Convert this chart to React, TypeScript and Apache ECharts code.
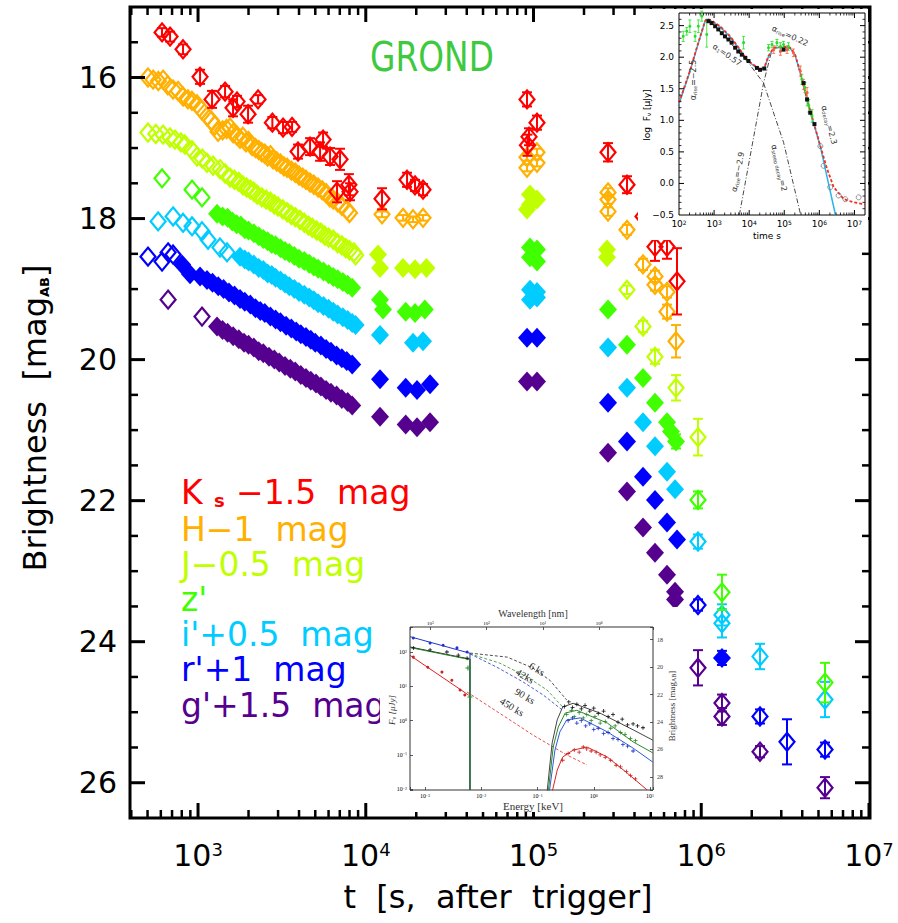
import React, { useEffect, useRef } from 'react';
import * as echarts from 'echarts';

const FONT = "'DejaVu Sans', 'Liberation Sans', sans-serif";
const SERIF = "'Liberation Serif', 'DejaVu Serif', serif";

// ---------------- main panel: GROND light curves [t (s), mag, err] ----------------
const kOpen = [
  [610, 15.36, 0.06], [681, 15.42, 0.07], [814, 15.6, 0.07], [1028, 15.99, 0.1], [1212, 16.31, 0.12],
  [1449, 16.2, 0.08], [1617, 16.43, 0.12], [1708, 16.34, 0.08], [1987, 16.52, 0.12], [2279, 16.31, 0.06],
  [2774, 16.64, 0.08], [3212, 16.71, 0.08], [3634, 16.7, 0.07], [3947, 17.05, 0.1], [4653, 16.98, 0.12],
  [5339, 17.05, 0.13], [5564, 16.88, 0.1], [6124, 17.12, 0.12], [7023, 17.16, 0.15], [6740, 17.62, 0.15],
  [7930, 17.52, 0.15], [8055, 17.62, 0.12],
  [12500, 17.72, 0.15], [17620, 17.45, 0.1], [19660, 17.53, 0.08], [21950, 17.59, 0.08],
  [91460, 16.31, 0.1], [104900, 16.64, 0.1], [94010, 16.84, 0.12], [92000, 16.96, 0.15],
  [278100, 17.06, 0.13], [360900, 17.52, 0.12], [449600, 17.97, 0.1], [530000, 18.4, 0.2],
  [625100, 18.4, 0.17], [717100, 18.89, 0.47],
];

const hOpen = [
  [503, 16.0, 0], [540, 16.03, 0], [580, 16.05, 0], [619, 16.03, 0], [660, 16.11, 0], [710, 16.17, 0],
  [760, 16.19, 0], [814, 16.27, 0], [870, 16.31, 0], [920, 16.33, 0], [986, 16.38, 0], [1050, 16.46, 0],
  [1131, 16.55, 0], [1200, 16.61, 0], [1260, 16.68, 0], [1316, 16.77, 0], [1400, 16.75, 0], [1480, 16.73, 0],
  [1552, 16.71, 0], [1620, 16.79, 0], [1700, 16.82, 0], [1780, 16.87, 0], [1850, 16.84, 0], [1930, 16.92, 0],
  [2000, 16.9, 0], [2100, 16.97, 0], [2200, 17.0, 0], [2300, 17.03, 0], [2400, 17.06, 0], [2500, 17.08, 0],
  [2600, 17.12, 0], [2700, 17.1, 0], [2800, 17.16, 0], [2950, 17.19, 0], [3100, 17.22, 0], [3250, 17.26, 0],
  [3400, 17.28, 0], [3600, 17.32, 0], [3800, 17.35, 0], [4000, 17.39, 0], [4200, 17.42, 0], [4400, 17.45, 0],
  [4650, 17.49, 0], [4900, 17.52, 0], [5200, 17.56, 0], [5500, 17.6, 0], [5800, 17.64, 0], [6100, 17.7, 0],
  [6400, 17.73, 0], [6800, 17.77, 0], [7200, 17.82, 0], [7700, 17.88, 0], [8000, 17.92, 0],
  [12500, 17.94, 0.04], [16680, 17.99, 0.04], [19130, 18.01, 0.04], [21950, 17.99, 0.04],
  [91460, 17.13, 0.05], [91460, 17.28, 0.05], [104900, 17.06, 0.05], [104900, 17.21, 0.05],
  [278100, 17.63, 0.06], [278100, 17.73, 0.06], [278100, 17.9, 0.06], [360900, 18.16, 0.07],
  [449600, 18.65, 0.08], [530000, 18.82, 0.08], [530000, 18.94, 0.08], [625100, 19.04, 0.08],
  [625100, 19.32, 0.1], [707400, 19.74, 0.23],
];

const jOpen = [
  [503, 16.78, 0], [560, 16.8, 0], [619, 16.81, 0], [680, 16.85, 0], [729, 16.88, 0], [790, 16.92, 0],
  [836, 16.95, 0], [920, 17.03, 0], [986, 17.12, 0], [1060, 17.15, 0], [1131, 17.21, 0], [1230, 17.25, 0],
  [1352, 17.3, 0], [1450, 17.36, 0], [1552, 17.42, 0], [1650, 17.45, 0], [1750, 17.48, 0], [1850, 17.53, 0],
  [1950, 17.56, 0], [2050, 17.59, 0], [2150, 17.62, 0], [2250, 17.66, 0], [2400, 17.7, 0], [2550, 17.73, 0],
  [2700, 17.76, 0], [2850, 17.8, 0], [3000, 17.83, 0], [3200, 17.87, 0], [3400, 17.91, 0], [3600, 17.95, 0],
  [3800, 17.98, 0], [4050, 18.02, 0], [4300, 18.06, 0], [4550, 18.1, 0], [4800, 18.13, 0], [5100, 18.17, 0],
  [5400, 18.2, 0], [5700, 18.24, 0], [6000, 18.27, 0], [6400, 18.3, 0], [6800, 18.35, 0], [7200, 18.38, 0],
  [7600, 18.42, 0], [8000, 18.45, 0], [8500, 18.48, 0], [8700, 18.52, 0],
  [360900, 19.01, 0.06], [449600, 19.53, 0.08], [530000, 19.96, 0.1], [707400, 20.4, 0.18], [956300, 21.1, 0.26],
];
const jFilled = [
  [11830, 18.51, 0], [12160, 18.7, 0], [16680, 18.7, 0], [19660, 18.72, 0], [23000, 18.7, 0],
  [95310, 17.66, 0], [95310, 17.8, 0], [104900, 17.73, 0], [91460, 17.87, 0],
  [274300, 18.44, 0.05], [274300, 18.55, 0.05],
];

const zOpen = [
  [610, 17.43, 0], [921, 17.59, 0], [1056, 17.7, 0],
  [956300, 21.99, 0.12], [1329000, 23.3, 0.25], [5468000, 24.58, 0.28],
];
const zFilled = [
  [1298, 17.93, 0], [1400, 17.97, 0], [1500, 17.99, 0], [1600, 18.04, 0], [1700, 18.08, 0], [1800, 18.1, 0],
  [1900, 18.15, 0], [2000, 18.17, 0], [2150, 18.21, 0], [2300, 18.25, 0], [2450, 18.29, 0], [2600, 18.32, 0],
  [2750, 18.36, 0], [2900, 18.38, 0], [3100, 18.42, 0], [3300, 18.46, 0], [3500, 18.49, 0], [3750, 18.53, 0],
  [4000, 18.57, 0], [4300, 18.6, 0], [4600, 18.64, 0], [4900, 18.68, 0], [5200, 18.71, 0], [5600, 18.75, 0],
  [6000, 18.79, 0], [6400, 18.83, 0], [6800, 18.86, 0], [7300, 18.9, 0], [7800, 18.94, 0], [8300, 18.98, 0],
  [12160, 19.15, 0], [12670, 19.29, 0], [17300, 19.32, 0], [19660, 19.34, 0], [22500, 19.29, 0],
  [95310, 18.41, 0], [95310, 18.55, 0], [104900, 18.44, 0], [104900, 18.61, 0],
  [278100, 19.29, 0], [360900, 19.79, 0], [449600, 20.26, 0], [530000, 20.61, 0], [625100, 20.89, 0],
  [660000, 21.02, 0], [707400, 21.16, 0.1],
];

const iOpen = [
  [578, 18.04, 0], [710, 17.97, 0], [814, 18.06, 0], [921, 18.11, 0], [1056, 18.18, 0], [1147, 18.3, 0],
  [1352, 18.41, 0], [1489, 18.48, 0],
  [956300, 22.58, 0.1], [1329000, 23.62, 0.15], [1329000, 23.74, 0.2], [2240000, 24.21, 0.18], [5468000, 24.82, 0.25],
];
const iFilled = [
  [1780, 18.54, 0], [1900, 18.58, 0], [2000, 18.61, 0], [2150, 18.65, 0], [2300, 18.7, 0], [2450, 18.73, 0],
  [2600, 18.78, 0], [2750, 18.8, 0], [2900, 18.84, 0], [3100, 18.88, 0], [3300, 18.92, 0], [3500, 18.96, 0],
  [3750, 19.0, 0], [4000, 19.04, 0], [4300, 19.08, 0], [4600, 19.12, 0], [4900, 19.16, 0], [5200, 19.2, 0],
  [5600, 19.24, 0], [6000, 19.28, 0], [6400, 19.32, 0], [6800, 19.36, 0], [7300, 19.4, 0], [7800, 19.44, 0],
  [8300, 19.48, 0], [8700, 19.51, 0],
  [12160, 19.65, 0], [19130, 19.76, 0], [21950, 19.74, 0],
  [95310, 19.01, 0], [104900, 19.04, 0], [95310, 19.15, 0], [104900, 19.12, 0],
  [278100, 19.83, 0], [360900, 20.4, 0], [449600, 20.89, 0], [530000, 21.23, 0], [625100, 21.59, 0], [697800, 21.84, 0],
];

const rOpen = [
  [503, 18.54, 0], [610, 18.61, 0], [663, 18.48, 0], [710, 18.51, 0],
  [956300, 23.48, 0.08], [2240000, 25.06, 0.1], [3245000, 25.42, 0.32], [5468000, 25.53, 0.1],
];
const rFilled = [
  [803, 18.65, 0], [896, 18.79, 0], [1028, 18.82, 0],
  [1131, 18.87, 0], [1220, 18.91, 0], [1320, 18.96, 0], [1420, 19.0, 0], [1530, 19.05, 0], [1650, 19.09, 0],
  [1780, 19.14, 0], [1900, 19.18, 0], [2050, 19.22, 0], [2200, 19.27, 0], [2350, 19.31, 0], [2500, 19.34, 0],
  [2700, 19.39, 0], [2900, 19.43, 0], [3100, 19.47, 0], [3350, 19.52, 0], [3600, 19.56, 0], [3850, 19.6, 0],
  [4100, 19.64, 0], [4400, 19.68, 0], [4700, 19.72, 0], [5000, 19.76, 0], [5400, 19.8, 0], [5800, 19.85, 0],
  [6200, 19.89, 0], [6700, 19.94, 0], [7200, 19.98, 0], [7700, 20.02, 0], [8300, 20.07, 0],
  [12160, 20.28, 0], [17300, 20.4, 0], [20210, 20.43, 0], [24160, 20.35, 0],
  [91460, 19.69, 0], [104900, 19.69, 0],
  [278100, 20.61, 0], [360900, 21.16, 0], [449600, 21.66, 0], [530000, 21.99, 0], [625100, 22.31, 0],
  [717100, 22.55, 0], [1329000, 24.23, 0.1],
];

const gOpen = [
  [663, 19.15, 0], [1056, 19.39, 0],
  [956300, 24.37, 0.25], [1329000, 24.87, 0.12], [1329000, 25.06, 0.12], [2240000, 25.56, 0.08], [5468000, 26.07, 0.15],
];
const gFilled = [
  [1298, 19.53, 0], [1400, 19.58, 0], [1500, 19.62, 0], [1620, 19.67, 0], [1750, 19.71, 0], [1880, 19.76, 0],
  [2000, 19.79, 0], [2150, 19.83, 0], [2300, 19.88, 0], [2450, 19.91, 0], [2650, 19.96, 0], [2850, 20.0, 0],
  [3050, 20.04, 0], [3300, 20.09, 0], [3550, 20.13, 0], [3800, 20.17, 0], [4100, 20.22, 0], [4400, 20.26, 0],
  [4700, 20.3, 0], [5050, 20.34, 0], [5400, 20.38, 0], [5800, 20.43, 0], [6200, 20.47, 0], [6700, 20.51, 0],
  [7200, 20.56, 0], [7800, 20.6, 0], [8300, 20.65, 0],
  [12160, 20.81, 0], [17300, 20.92, 0], [20210, 20.96, 0], [24160, 20.89, 0],
  [91460, 20.31, 0], [104900, 20.31, 0],
  [278100, 21.32, 0], [360900, 21.87, 0], [449600, 22.38, 0], [530000, 22.74, 0], [625100, 23.05, 0],
  [697800, 23.29, 0], [697800, 23.4, 0],
];

const legendLabels = ["H\u22121  mag", "J\u22120.5  mag", "z'", "i'+0.5  mag", "r'+1  mag", "g'+1.5  mag"];
const mainXMajor = [1e3, 1e4, 1e5, 1e6, 1e7];
const mainYMajor = [16, 18, 20, 22, 24, 26];

// ---------------- inset 1: log F_nu vs time ----------------
const insetModel = [
  [100, 1.28], [204, 1.78], [355, 2.23], [550, 2.57], [620, 2.61], [851, 2.58], [1479, 2.49], [2884, 2.33],
  [5495, 2.12], [8511, 1.96], [14791, 1.86], [20417, 1.81], [26915, 1.83], [35481, 2.02], [50119, 2.15],
  [95499, 2.17], [147911, 2.15], [204174, 2.04], [288403, 1.75], [446684, 1.33], [691831, 0.96],
  [1071519, 0.59], [1659587, 0.23], [2570396, -0.06], [5011872, -0.25], [9549926, -0.3], [20000000, -0.33],
];
const insetFit = [
  [100, 1.26], [204, 1.77], [355, 2.22], [550, 2.56], [620, 2.6], [851, 2.57], [1479, 2.48], [2884, 2.32],
  [5495, 2.11], [8511, 1.95], [14791, 1.85], [20417, 1.8], [26915, 1.82], [35481, 2.01], [50119, 2.14],
  [95499, 2.16], [147911, 2.14], [204174, 2.03], [288403, 1.74], [446684, 1.32], [691831, 0.95],
  [1071519, 0.58], [2884032, -0.5],
];
const insetDecay = [[851, 2.55], [9550, 1.91], [25704, 1.59], [95499, 0.65], [288403, -0.48]];
const insetRise = [[5248, -0.5], [25704, 1.59], [44668, 2.12]];
const insetGreen = [
  [132, 2.33, 0.08], [166, 2.41, 0.06], [204, 2.49, 0.1], [288, 2.33, 0.08], [355, 2.49, 0.1], [447, 2.65, 0.08],
  [617, 2.36, 0.2], [6918, 2.23, 0.1], [35481, 2.15, 0.05], [44668, 2.2, 0.05], [61660, 2.23, 0.05],
  [77625, 2.17, 0.06], [95499, 2.2, 0.05], [131826, 2.17, 0.06], [316228, 1.65, 0.08], [389045, 1.52, 0.08],
  [446684, 1.33, 0.1], [501187, 1.23, 0.1], [616595, 1.07, 0.1],
];
const insetBlack = [
  [692, 2.57], [851, 2.54], [1072, 2.49], [1318, 2.44], [1660, 2.38], [2042, 2.33], [2570, 2.28], [3162, 2.23],
  [3981, 2.15], [4898, 2.09], [6166, 2.04], [7762, 1.99], [9550, 1.94], [16596, 1.83], [20417, 1.8],
  [26915, 1.82], [95499, 2.12], [354813, 1.59], [446684, 1.33], [549541, 1.12], [724436, 0.94],
];
const insetRed = [
  [50119, 2.12, 0.06], [77625, 2.09, 0.06], [120226, 2.12, 0.06], [181970, 2.07, 0.06],
  [288403, 1.78, 0.08], [354813, 1.57, 0.08], [446684, 1.44, 0.08],
];
const insetGrey = [[1.07e6, 0.59], [1.32e6, 0.28], [2.04e6, -0.06], [3.55e6, -0.19], [5.5e6, -0.25], [1.32e7, -0.22]];

// ---------------- inset 2: SED, energy [keV] vs F_nu [uJy] ----------------
const sedBluePts = [[6.2e-4, 257], [1.23e-3, 182], [2.1e-3, 158], [3.7e-3, 132], [5.6e-3, 100]];
const sedBlackPts = [[6.2e-4, 132], [1.23e-3, 115], [2.45e-3, 100], [3.9e-3, 81], [5.6e-3, 66]];
const sedGreenPts = [[5.8e-3, 34], [6.3e-3, 4.9]];
const sedRedPts = [[6.2e-4, 71], [1.12e-3, 36], [2.0e-3, 26], [3.0e-3, 15], [4.2e-3, 7.8], [5.1e-3, 5.6]];
const sedBlueOpt = [[5.41e-4, 280], [6.3e-3, 92], [6.3e-3, 0.0095]];
const sedBlackOpt = [[5.41e-4, 140], [6.3e-3, 62], [6.3e-3, 0.0095]];
const sedGreenOpt = [[5.41e-4, 135], [6.3e-3, 60], [6.3e-3, 0.0095]];
const sedRedOpt = [[5.41e-4, 80], [6.0e-3, 5.5]];
const sedBlackDash = [[6.3e-3, 93], [0.029, 71], [0.083, 34], [0.166, 15], [0.33, 4.0]];
const sedGreenDash = [[6.3e-3, 88], [0.021, 48], [0.065, 19], [0.148, 7.8], [0.28, 2.5]];
const sedBlueDash = [[6.3e-3, 88], [0.019, 36], [0.055, 13.5], [0.126, 5.6], [0.28, 2.0]];
const sedRedDash = [[5.6e-3, 6.8], [0.021, 1.66], [0.083, 0.38], [0.33, 0.1], [0.76, 0.051]];
const sedBlackX = [[0.148, 0.0083], [0.182, 0.224], [0.224, 1.05], [0.28, 2.5], [0.43, 3.2], [1.29, 1.66], [5.0, 0.54], [11.2, 0.27]];
const sedGreenX = [[0.155, 0.0083], [0.19, 0.17], [0.234, 0.65], [0.31, 1.66], [0.5, 2.0], [1.74, 0.85], [5.0, 0.24], [11.2, 0.115]];
const sedBlueX = [[0.162, 0.0083], [0.204, 0.138], [0.25, 0.47], [0.33, 1.05], [0.575, 1.2], [1.74, 0.47], [5.0, 0.158], [11.2, 0.062]];
const sedRedX = [[0.182, 0.0083], [0.224, 0.036], [0.28, 0.087], [0.43, 0.138], [0.76, 0.17], [1.74, 0.087], [3.9, 0.03], [8.9, 0.0095]];
const sedBlackXPts = [[0.3, 2.6], [0.36, 3.5], [0.42, 2.4], [0.5, 3.0], [0.6, 2.2], [0.7, 2.8], [0.85, 1.9], [1.0, 2.3], [1.2, 1.6], [1.5, 1.9], [1.8, 1.3], [2.2, 1.5], [2.7, 0.9], [3.2, 1.1], [4.0, 0.75], [5.0, 0.8], [6.0, 0.7], [7.5, 0.62]];
const sedGreenXPts = [[0.33, 1.5], [0.4, 2.0], [0.45, 1.3], [0.55, 1.7], [0.65, 1.2], [0.75, 1.5], [0.9, 1.0], [1.05, 1.3], [1.3, 0.85], [1.6, 0.95], [2.0, 0.6], [2.4, 0.7], [3.0, 0.45], [3.6, 0.4], [4.5, 0.3], [5.5, 0.26]];
const sedBlueXPts = [[0.35, 1.0], [0.42, 1.2], [0.5, 0.85], [0.6, 1.0], [0.72, 0.7], [0.85, 0.8], [1.0, 0.55], [1.2, 0.6], [1.5, 0.42], [1.8, 0.45], [2.2, 0.3], [2.7, 0.28], [3.3, 0.2], [4.0, 0.18], [5.0, 0.13]];
const sedRedXPts = [[0.28, 0.07], [0.35, 0.11], [0.45, 0.14], [0.55, 0.12], [0.65, 0.17], [0.75, 0.15], [0.9, 0.13], [1.1, 0.12], [1.3, 0.1], [1.6, 0.085], [2.0, 0.07], [2.5, 0.05], [3.0, 0.045], [3.8, 0.033], [4.5, 0.025], [5.5, 0.02]];

// axis ranges
const MAIN_T = [393, 1.014e7];
const MAIN_MAG = [15, 26.5];
const IN1_T = [100, 2e7];
const IN1_F = [-0.5, 2.7];
const IN2_E = [5.41e-4, 11.3];
const IN2_F = [0.0095, 536];

const C = { K: '#ff0000', H: '#ffb000', J: '#c0ff00', z: '#40ff00', i: '#00ccff', r: '#0000ff', g: '#560090' };
const PLUS = 'path://M4,0h2v10h-2zM0,4h10v2h-10z';

function powLabel(v: number) {
  const e = Math.log10(v);
  const r = Math.round(e);
  if (Math.abs(e - r) > 1e-6) return '';
  return '{b|10}{s|' + String(r).replace('-', '\u2212') + '}';
}

function scat(data: number[][], color: string, open: boolean, xi: number, yi: number, z: number, size: any, symbol = 'diamond', bw = 2) {
  return {
    type: 'scatter', xAxisIndex: xi, yAxisIndex: yi, z, silent: true, symbol, symbolSize: size,
    data: data.map((d) => [d[0], d[1]]),
    itemStyle: open
      ? { color: 'rgba(255,255,255,0)', borderColor: color, borderWidth: bw, opacity: 1 }
      : { color, opacity: 1 },
    emphasis: { disabled: true },
  };
}

function errs(data: number[][], color: string, xi: number, yi: number, z: number, lw: number, cap: number) {
  return {
    type: 'custom', xAxisIndex: xi, yAxisIndex: yi, z, silent: true, encode: { x: 0, y: 1 },
    data: data.filter((d) => d[2] > 0),
    renderItem: (_p: any, api: any) => {
      const x = api.value(0), y = api.value(1), e = api.value(2);
      const a = api.coord([x, y - e]), b = api.coord([x, y + e]);
      const style = { stroke: color, lineWidth: lw, fill: null };
      return {
        type: 'group', children: [
          { type: 'line', shape: { x1: a[0], y1: a[1], x2: b[0], y2: b[1] }, style },
          { type: 'line', shape: { x1: a[0] - cap, y1: a[1], x2: a[0] + cap, y2: a[1] }, style },
          { type: 'line', shape: { x1: b[0] - cap, y1: b[1], x2: b[0] + cap, y2: b[1] }, style },
        ],
      };
    },
  };
}

function ticks(xi: number, yi: number, xT: number[][], yT: number[][], dx: number, dy: number, z: number) {
  const data = [
    ...xT.map(([v, len, lw]) => [v, dy, 0, len, lw]),
    ...yT.map(([v, len, lw]) => [dx, v, 1, len, lw]),
  ];
  return {
    type: 'custom', xAxisIndex: xi, yAxisIndex: yi, z, silent: true, clip: false, encode: { x: 0, y: 1 }, data,
    renderItem: (params: any, api: any) => {
      const cs = params.coordSys;
      const p = api.coord([api.value(0), api.value(1)]);
      const len = api.value(3);
      const style = { stroke: '#000', lineWidth: api.value(4), fill: null };
      if (api.value(2) === 0) {
        const x = p[0], b = cs.y + cs.height, t = cs.y;
        return {
          type: 'group', children: [
            { type: 'line', shape: { x1: x, y1: b, x2: x, y2: b - len }, style },
            { type: 'line', shape: { x1: x, y1: t, x2: x, y2: t + len }, style },
          ],
        };
      }
      const y = p[1], l = cs.x, r = cs.x + cs.width;
      return {
        type: 'group', children: [
          { type: 'line', shape: { x1: l, y1: y, x2: l + len, y2: y }, style },
          { type: 'line', shape: { x1: r, y1: y, x2: r - len, y2: y }, style },
        ],
      };
    },
  };
}

function logTicks(lo: number, hi: number, majLen: number, minLen: number, majW: number, minW: number) {
  const out: number[][] = [];
  for (let d = Math.floor(Math.log10(lo)); d <= Math.ceil(Math.log10(hi)); d++) {
    for (let m = 1; m <= 9; m++) {
      const v = m * Math.pow(10, d);
      if (v <= lo * 1.0001 || v >= hi * 0.9999) continue;
      out.push(m === 1 ? [v, majLen, majW] : [v, minLen, minW]);
    }
  }
  return out;
}

function linTicks(lo: number, hi: number, step: number, majorEvery: number, majLen: number, minLen: number, majW: number, minW: number) {
  const out: number[][] = [];
  const n = Math.round((hi - lo) / step);
  for (let k = 1; k < n; k++) {
    const v = +(lo + k * step).toFixed(4);
    const isMaj = Math.abs(v / majorEvery - Math.round(v / majorEvery)) < 1e-6;
    out.push(isMaj ? [v, majLen, majW] : [v, minLen, minW]);
  }
  return out;
}

function line(data: number[][], color: string, xi: number, yi: number, z: number, width: number, type: any = 'solid') {
  return {
    type: 'line', xAxisIndex: xi, yAxisIndex: yi, z, silent: true, symbol: 'none', data,
    lineStyle: { color, width, type }, emphasis: { disabled: true },
  };
}

function txt(text: string, x: number, y: number, size: number, color: string, opts: any = {}) {
  return {
    type: 'text', x, y, z: opts.z ?? 9, rotation: opts.rotation ?? 0, scaleX: opts.scaleX ?? 1, silent: true,
    style: {
      text, fill: color, fontSize: size, fontFamily: opts.family ?? FONT, fontWeight: opts.weight ?? 'normal',
      fontStyle: opts.style ?? 'normal',
      align: opts.align ?? 'left', verticalAlign: 'middle', textAlign: opts.align ?? 'left', textVerticalAlign: 'middle',
      rich: opts.rich,
    },
  };
}

export default function App() {
  const ref = useRef<HTMLDivElement>(null);
  useEffect(() => {
    const chart = echarts.init(ref.current!, undefined, { renderer: 'svg' });

    const mainXT = logTicks(MAIN_T[0], MAIN_T[1], 15, 8, 3, 2.5);
    const mainYT = linTicks(MAIN_MAG[0], MAIN_MAG[1], 0.5, 2, 15, 8, 3, 2.5);
    const in1XT = logTicks(IN1_T[0], IN1_T[1], 5, 2.5, 1, 0.8);
    const in1YT = linTicks(IN1_F[0], IN1_F[1], 0.1, 0.5, 5, 2.5, 1, 0.8);

    const bands = [
      { o: gOpen, f: gFilled, c: C.g },
      { o: rOpen, f: rFilled, c: C.r },
      { o: iOpen, f: iFilled, c: C.i },
      { o: zOpen, f: zFilled, c: C.z },
      { o: jOpen, f: jFilled, c: C.J },
      { o: hOpen, f: [] as number[][], c: C.H },
      { o: kOpen, f: [] as number[][], c: C.K },
    ];
    const mainSeries: any[] = [];
    bands.forEach((b, k) => {
      const z = 2 + k * 0.01;
      if (b.f.length) mainSeries.push(scat(b.f, b.c, false, 0, 0, z, [18, 20]));
      mainSeries.push(scat(b.o, b.c, true, 0, 0, z, [15, 18], 'diamond', 2.2));
      mainSeries.push(errs([...b.f, ...b.o], b.c, 0, 0, z, 2, 5));
    });

    const supRich = (b: number, s: number, fam = FONT) => ({
      b: { fontSize: b, fontFamily: fam, color: '#000' },
      s: { fontSize: s, fontFamily: fam, color: '#000', verticalAlign: 'top' },
    });

    const alphaRich = {
      a: { fontSize: 8, fontFamily: FONT, fill: '#333', color: '#333' },
      s: { fontSize: 5, fontFamily: FONT, fill: '#333', color: '#333', verticalAlign: 'bottom' },
    };

    const option: any = {
      animation: false,
      backgroundColor: '#fff',
      grid: [
        { left: 130, top: 7, width: 740, height: 811, show: true, borderColor: '#000', borderWidth: 3, backgroundColor: 'transparent', z: 0 },
        { left: 679, top: 13, width: 186, height: 202, show: true, borderColor: '#000', borderWidth: 1, backgroundColor: 'transparent', z: 6 },
        { left: 410, top: 627, width: 243, height: 163, show: true, borderColor: '#333', borderWidth: 1, backgroundColor: 'transparent', z: 6 },
      ],
      xAxis: [
        {
          gridIndex: 0, type: 'log', logBase: 10, min: MAIN_T[0], max: MAIN_T[1], position: 'bottom',
          axisLine: { show: false }, axisTick: { show: false }, splitLine: { show: false }, minorTick: { show: false },
          axisLabel: { formatter: powLabel, margin: 22, rich: supRich(30, 18) },
        },
        {
          gridIndex: 1, type: 'log', logBase: 10, min: IN1_T[0], max: IN1_T[1], position: 'bottom', z: 6,
          axisLine: { show: false }, axisTick: { show: false }, splitLine: { show: false },
          axisLabel: { formatter: powLabel, margin: 4, rich: supRich(9, 6) },
        },
        {
          gridIndex: 2, type: 'log', logBase: 10, min: IN2_E[0], max: IN2_E[1], position: 'bottom', z: 6,
          axisLine: { show: false }, splitLine: { show: false },
          axisTick: { show: true, inside: true, length: 3, lineStyle: { color: '#333', width: 0.8 } },
          axisLabel: { formatter: powLabel, margin: 3, rich: supRich(6, 4, SERIF) },
        },
        {
          gridIndex: 2, type: 'log', logBase: 10, min: 1.24 / IN2_E[1], max: 1.24 / IN2_E[0], position: 'top', inverse: true, z: 6,
          axisLine: { show: false }, splitLine: { show: false },
          axisTick: { show: true, inside: true, length: 3, lineStyle: { color: '#333', width: 0.8 } },
          axisLabel: { formatter: powLabel, margin: 1, rich: supRich(5, 3.5, SERIF) },
        },
      ],
      yAxis: [
        {
          gridIndex: 0, type: 'value', inverse: true, min: MAIN_MAG[0], max: MAIN_MAG[1], interval: 0.5,
          axisLine: { show: false }, axisTick: { show: false }, splitLine: { show: false },
          axisLabel: {
            margin: 13, fontSize: 30, fontFamily: FONT, color: '#000',
            formatter: (v: number) => (mainYMajor.some((m) => Math.abs(m - v) < 1e-6) ? String(Math.round(v)) : ''),
          },
        },
        {
          gridIndex: 1, type: 'value', min: IN1_F[0], max: IN1_F[1], interval: 0.5, z: 6,
          axisLine: { show: false }, axisTick: { show: false }, splitLine: { show: false },
          axisLabel: {
            margin: 5, fontSize: 9, fontFamily: FONT, color: '#000',
            formatter: (v: number) => (Math.abs(v * 2 - Math.round(v * 2)) < 1e-6 ? v.toFixed(1).replace('-', '\u2212') : ''),
          },
        },
        {
          gridIndex: 2, type: 'log', logBase: 10, min: IN2_F[0], max: IN2_F[1], position: 'left', z: 6,
          axisLine: { show: false }, splitLine: { show: false },
          axisTick: { show: true, inside: true, length: 3, lineStyle: { color: '#333', width: 0.8 } },
          axisLabel: { formatter: powLabel, margin: 3, rich: supRich(6, 4, SERIF) },
        },
        {
          gridIndex: 2, type: 'value', inverse: true, position: 'right', z: 6,
          min: 23.9 - 2.5 * Math.log10(IN2_F[1]), max: 23.9 - 2.5 * Math.log10(IN2_F[0]),
          axisLine: { show: false }, splitLine: { show: false },
          axisTick: { show: true, inside: true, length: 3, lineStyle: { color: '#333', width: 0.8 } },
          axisLabel: {
            margin: 4, fontSize: 6, fontFamily: SERIF, color: '#333',
            formatter: (v: number) => (Math.abs(v - Math.round(v)) < 1e-6 && Math.round(v) % 2 === 0 ? String(Math.round(v)) : ''),
          },
        },
      ],
      series: [
        ticks(0, 0, mainXT, mainYT, 1000, 20, 3),
        ...mainSeries,
        // inset 1
        ticks(1, 1, in1XT, in1YT, 1000, 1, 8),
        line(insetDecay, '#333', 1, 1, 7, 0.9, [5, 2, 1, 2]),
        line(insetRise, '#333', 1, 1, 7, 0.9, [5, 2, 1, 2]),
        line(insetFit, '#2ab4ea', 1, 1, 7, 1.5),
        line(insetModel, '#ff2a1a', 1, 1, 7.1, 1.8, [3, 2]),
        errs(insetGreen, '#22e022', 1, 1, 7.2, 0.8, 1.5),
        scat(insetGreen, '#22e022', false, 1, 1, 7.2, 3, 'circle'),
        errs(insetRed, '#ff5a3a', 1, 1, 7.2, 0.8, 1.5),
        scat(insetRed, '#ff5a3a', false, 1, 1, 7.2, 3, 'circle'),
        scat(insetBlack, '#111', false, 1, 1, 7.3, 4, 'rect'),
        scat(insetGrey, '#777', true, 1, 1, 7.3, 5, 'circle', 0.8),
        // inset 2
        line(sedBlueDash, '#2233cc', 2, 2, 7, 0.8, [3, 2]),
        line(sedGreenDash, '#2a8a2a', 2, 2, 7, 0.8, [3, 2]),
        line(sedBlackDash, '#222', 2, 2, 7, 0.8, [3, 2]),
        line(sedRedDash, '#dd2222', 2, 2, 7, 0.8, [3, 2]),
        line(sedBlueOpt, '#2233cc', 2, 2, 7, 1),
        line(sedBlackOpt, '#222', 2, 2, 7, 1),
        line(sedGreenOpt, '#2a8a2a', 2, 2, 7.05, 1),
        line(sedRedOpt, '#dd2222', 2, 2, 7, 1),
        line(sedBlackX, '#444', 2, 2, 7, 1),
        line(sedGreenX, '#2a8a2a', 2, 2, 7, 1),
        line(sedBlueX, '#2a5bd6', 2, 2, 7, 1),
        line(sedRedX, '#dd2222', 2, 2, 7, 1),
        scat(sedBlackXPts, '#111', false, 2, 2, 7.2, 4, PLUS),
        scat(sedGreenXPts, '#2a8a2a', false, 2, 2, 7.2, 4, PLUS),
        scat(sedBlueXPts, '#2233cc', false, 2, 2, 7.2, 4, PLUS),
        scat(sedRedXPts, '#cc2222', false, 2, 2, 7.2, 4, PLUS),
        scat(sedBluePts, '#2233cc', false, 2, 2, 7.2, 3, 'circle'),
        scat(sedBlackPts, '#111', false, 2, 2, 7.2, 4, PLUS),
        scat(sedGreenPts, '#2a8a2a', false, 2, 2, 7.2, 5, PLUS),
        scat(sedRedPts, '#cc2222', false, 2, 2, 7.2, 3, 'circle'),
      ],
      graphic: {
        elements: [
          { type: 'rect', z: 5, silent: true, shape: { x: 638, y: 9, width: 230, height: 231 }, style: { fill: '#fff' } },
          { type: 'rect', z: 5, silent: true, shape: { x: 380, y: 607, width: 300, height: 205 }, style: { fill: '#fff' } },
          txt('GROND', 432, 57, 40, '#3ec93e', { align: 'center', scaleX: 0.82, z: 4 }),
          txt('K', 181, 492, 33, C.K, { z: 4 }),
          txt('s', 214, 500, 18, C.K, { z: 4, weight: 'bold' }),
          txt('\u22121.5  mag', 236, 492, 33, C.K, { z: 4 }),
          ...legendLabels.map((t, k) =>
            txt(t, 181, 529 + k * 35.2, 33, [C.H, C.J, C.z, C.i, C.r, C.g][k], { z: 4 })),
          txt('{m|Brightness  [mag}{s|AB}{m|]}', 35, 418, 32, '#000', {
            align: 'center', rotation: Math.PI / 2, z: 4,
            rich: {
              m: { fontSize: 32, fontFamily: FONT, fill: '#000', color: '#000' },
              s: { fontSize: 13, fontFamily: FONT, fontWeight: 'bold', fill: '#000', color: '#000', verticalAlign: 'bottom' },
            },
          }),
          txt('t  [s,  after  trigger]', 498, 897, 32, '#000', { align: 'center', z: 4 }),
          // inset 1 labels
          txt('{a|log  F}{s|\u03bd}{a| [\u03bcJy]}', 647, 115, 9, '#000', {
            align: 'center', rotation: Math.PI / 2,
            rich: { a: { fontSize: 9, fontFamily: FONT, fill: '#000' }, s: { fontSize: 6, fontFamily: FONT, fill: '#000', verticalAlign: 'bottom' } },
          }),
          txt('time s', 767, 236, 9, '#000', { align: 'center' }),
          txt('{a|\u03b1}{s|rise}{a|=\u22122.5}', 693, 80, 8, '#333', { align: 'center', rotation: Math.PI / 2, rich: alphaRich }),
          txt('{a|\u03b1}{s|1}{a|=0.57}', 727, 55, 8, '#333', { align: 'center', rotation: -0.6, rich: alphaRich }),
          txt('{a|\u03b1}{s|rise}{a|=0.22}', 790, 36, 8, '#333', { align: 'center', rotation: -0.42, rich: alphaRich }),
          txt('{a|\u03b1}{s|decay}{a|=2.3}', 829, 125, 8, '#333', { align: 'center', rotation: -1.3, rich: alphaRich }),
          txt('{a|\u03b1}{s|rise}{a|=\u22122.9}', 738, 172, 8, '#333', { align: 'center', rotation: 1.38, rich: alphaRich }),
          txt('{a|\u03b1}{s|steep decay}{a|=2}', 779, 168, 8, '#333', { align: 'center', rotation: -1.35, rich: alphaRich }),
          // inset 2 labels
          txt('Wavelength [nm]', 533, 613, 10, '#333', { align: 'center', family: SERIF }),
          txt('Energy [keV]', 533, 806, 11, '#333', { align: 'center', family: SERIF }),
          txt('{a|F}{s|\u03bd}{a| [\u03bcJy]}', 392, 710, 9, '#333', {
            align: 'center', rotation: Math.PI / 2,
            rich: { a: { fontSize: 9, fontFamily: SERIF, fontStyle: 'italic', fill: '#333' }, s: { fontSize: 6, fontFamily: SERIF, fill: '#333', verticalAlign: 'bottom' } },
          }),
          txt('{a|Brightness [mag}{s|AB}{a|]}', 672, 706, 9, '#333', {
            align: 'center', rotation: Math.PI / 2,
            rich: { a: { fontSize: 9, fontFamily: SERIF, fill: '#333' }, s: { fontSize: 6, fontFamily: SERIF, fill: '#333', verticalAlign: 'bottom' } },
          }),
          txt('6 ks', 537, 669, 10, '#222', { align: 'center', rotation: -0.55, family: SERIF }),
          txt('42ks', 525, 676, 10, '#222', { align: 'center', rotation: -0.55, family: SERIF }),
          txt('90 ks', 525, 696, 10, '#222', { align: 'center', rotation: -0.55, family: SERIF }),
          txt('450 ks', 512, 707, 10, '#222', { align: 'center', rotation: -0.55, family: SERIF }),
        ],
      },
    };

    chart.setOption(option);
    return () => chart.dispose();
  }, []);
  return <div ref={ref} style={{ position: 'absolute', left: 0, top: 0, width: 898, height: 923, background: '#fff' }} />;
}
